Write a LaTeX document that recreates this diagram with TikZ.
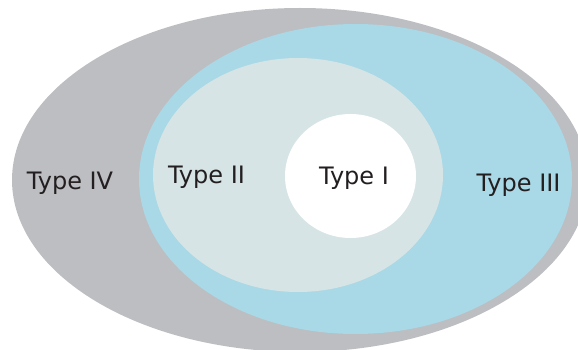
\documentclass[tikz,border=0pt]{standalone}
\usepackage{fontspec}
\setmainfont{DejaVu Sans}
\definecolor{typefour}{HTML}{BDBEC2}
\definecolor{typethree}{HTML}{A9D8E6}
\definecolor{typetwo}{HTML}{D6E4E5}
\definecolor{labeltext}{HTML}{231F20}
\tikzset{
  region/.style={draw=none},
  typelabel/.style={anchor=base, inner sep=0pt, text=labeltext, font=\fontsize{24}{28}\selectfont}
}
\begin{document}
\begin{tikzpicture}[x=1pt,y=-1pt]
\useasboundingbox (0,0) rectangle (578,350);
\begin{scope}
\clip (0,0) rectangle (578,350);
\fill[region, typefour] (300,180) ellipse [x radius=288, y radius=172];
\fill[region, typethree] (355.5,179) ellipse [x radius=216.5, y radius=155];
\fill[region, typetwo] (298,175) ellipse [x radius=145, y radius=117];
\fill[region, white] (350.5,176) ellipse [x radius=65.5, y radius=62];
\end{scope}
\node[typelabel] (t4) at (70,189.5) {Type IV};
\node[typelabel] (t2) at (206.5,183) {Type II};
\node[typelabel] (t1) at (354,184.5) {Type I};
\node[typelabel] (t3) at (518.5,191) {Type III};
\end{tikzpicture}
\end{document}
